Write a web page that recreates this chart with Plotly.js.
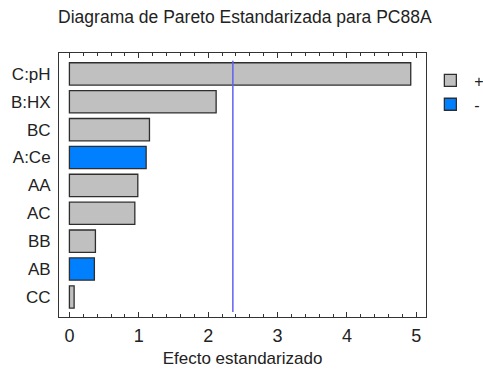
<!DOCTYPE html>
<html>
<head>
<meta charset="utf-8">
<script src="https://cdn.plot.ly/plotly-3.0.1.min.js"></script>
<style>html,body{margin:0;padding:0;background:#fff;}#chart{width:483px;height:371px;}</style>
</head>
<body>
<div id="chart"></div>
<script>
// Data
var factors = ['C:pH', 'B:HX', 'BC', 'A:Ce', 'AA', 'AC', 'BB', 'AB', 'CC'];
var effects = [4.92, 2.115, 1.154, 1.106, 0.986, 0.943, 0.375, 0.36, 0.068];
var signs   = ['+', '+', '+', '-', '+', '+', '+', '-', '+'];
var criticalValue = 2.356;
var xTickValues = [0, 1, 2, 3, 4, 5];

function pick(sign) {
  var xs = [], ys = [];
  for (var i = 0; i < factors.length; i++) {
    if (signs[i] === sign) { xs.push(effects[i]); ys.push(factors[i]); }
  }
  return {x: xs, y: ys};
}
var pos = pick('+'), neg = pick('-');

var font = 'Arial, "Liberation Sans", sans-serif';
var traces = [
  {type: 'bar', orientation: 'h', name: '+', x: pos.x, y: pos.y,
   marker: {color: '#c0c0c0', line: {color: '#2e2e2e', width: 1.3}}, width: 0.8},
  {type: 'bar', orientation: 'h', name: '-', x: neg.x, y: neg.y,
   marker: {color: '#0080ff', line: {color: '#2e2e2e', width: 1.3}}, width: 0.8}
];

var layout = {
  width: 483, height: 371,
  margin: {l: 59, r: 57, t: 53, b: 54, autoexpand: false},
  paper_bgcolor: '#fff', plot_bgcolor: '#fff',
  font: {family: font, size: 16, color: '#222'},
  barmode: 'overlay',
  title: {text: 'Diagrama de Pareto Estandarizada para PC88A', x: 0.507, xanchor: 'center', y: 0.972, yanchor: 'top',
          font: {family: font, size: 17.5, color: '#222'}},
  xaxis: {
    range: [-0.15, 5.14], tickvals: xTickValues, ticks: 'inside', ticklen: 5, tickcolor: '#333',
    showline: true, linecolor: '#333', linewidth: 1, mirror: 'allticks', showgrid: false, zeroline: false,
    minor: {dtick: 0.2, tick0: 0, ticks: 'inside', ticklen: 3, tickcolor: '#333', showgrid: false},
    tickfont: {family: font, size: 18, color: '#222'}, ticklabelstandoff: 2,
    title: {text: 'Efecto estandarizado', standoff: 7, font: {family: font, size: 17, color: '#222'}},
    fixedrange: true
  },
  yaxis: {
    type: 'category', categoryorder: 'array', categoryarray: factors,
    range: [8.72, -0.75], ticks: '', showline: true, linecolor: '#333', linewidth: 1, mirror: true,
    showgrid: false, zeroline: false, ticklabelstandoff: 4,
    tickfont: {family: font, size: 17, color: '#222'}, fixedrange: true
  },
  legend: {x: 1.001, xanchor: 'left', y: 0.96, yanchor: 'top', bgcolor: 'rgba(0,0,0,0)', itemwidth: 38,
           font: {family: font, size: 16, color: '#222'}, traceorder: 'normal', tracegroupgap: 0},
  showlegend: true,
  shapes: [{type: 'line', xref: 'x', yref: 'paper', x0: criticalValue, x1: criticalValue, y0: 0.019, y1: 0.971,
            line: {color: '#6060f0', width: 1.5}}]
};

Plotly.newPlot('chart', traces, layout, {displayModeBar: false, staticPlot: true});
</script>
</body>
</html>
